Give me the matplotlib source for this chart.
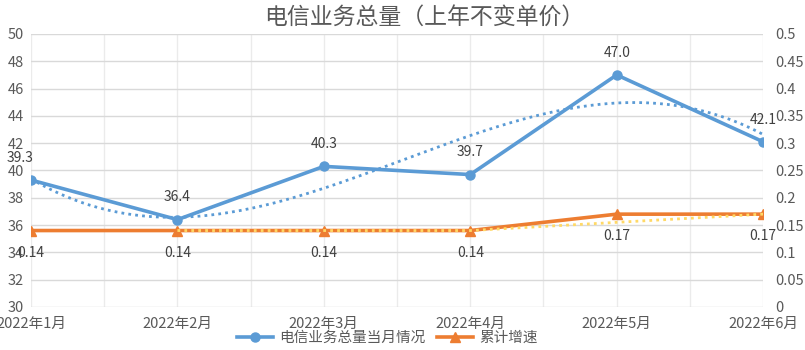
import numpy as np
import pandas as pd
import matplotlib
matplotlib.use("Agg")
import matplotlib.pyplot as plt
from matplotlib.ticker import FuncFormatter, MultipleLocator

plt.rcParams['font.family'] = ['Noto Sans CJK SC', 'DejaVu Sans']

months = ['2022年1月', '2022年2月', '2022年3月', '2022年4月', '2022年5月', '2022年6月']
monthly_total = [39.3, 36.4, 40.3, 39.7, 47.0, 42.1]
cum_growth = [0.14, 0.14, 0.14, 0.14, 0.17, 0.17]

blue = '#5B9BD5'
orange = '#ED7D31'
yellow = '#FFD966'
txt = '#595959'

fig = plt.figure(figsize=(8.05, 3.5), dpi=100)
ax = fig.add_axes([0.0385, 0.1229, 0.9095, 0.7801])
ax2 = ax.twinx()

x = np.arange(len(months))
xs = np.linspace(x[0], x[-1], 200)

# trendlines: cubic fit for the monthly total, 2-period moving average for growth
p1 = np.polyfit(x, monthly_total, 3)
ma2 = pd.Series(cum_growth).rolling(2).mean()

ax.plot(xs, np.polyval(p1, xs), color=blue, lw=2, ls=(0, (1, 1.5)), zorder=3)
l1, = ax.plot(x, monthly_total, color=blue, lw=2.6, marker='o', ms=6.5, zorder=4,
              label='电信业务总量当月情况')
l2, = ax2.plot(x, cum_growth, color=orange, lw=2.6, marker='^', ms=7, zorder=4,
               label='累计增速')
ax2.plot(x[1:], ma2[1:], color=yellow, lw=2, ls=(0, (1, 1.5)), zorder=5)

ax.set_ylim(30, 50)
ax.yaxis.set_major_locator(MultipleLocator(2))
ax2.set_ylim(0, 0.5)
ax2.yaxis.set_major_locator(MultipleLocator(0.05))
ax2.yaxis.set_major_formatter(FuncFormatter(lambda v, p: f'{v:.2f}'.rstrip('0').rstrip('.') if v else '0'))

ax.set_xlim(x[0], x[-1])
ax.set_xticks(x)
ax.set_xticklabels(months)
ax.set_xticks(np.arange(0.5, 5, 1), minor=True)

for a in (ax, ax2):
    for s in a.spines.values():
        s.set_visible(False)
    a.tick_params(length=0, labelsize=10.5, colors=txt)
ax.tick_params(axis='x', which='both', length=0, pad=7)
ax.tick_params(axis='y', pad=5)
ax2.tick_params(axis='y', pad=9)

ax.grid(axis='y', color='#d9d9d9', lw=1)
ax.grid(axis='x', which='both', color='#ebebeb', lw=1)
ax.set_axisbelow(True)

for i, v in enumerate(monthly_total):
    dx = -8 if i == 0 else 0
    ax.annotate(f'{v:.1f}', (x[i], v), xytext=(dx, 16), textcoords='offset points',
                ha='center', va='center', fontsize=10, color='#404040', zorder=6)
for i, v in enumerate(cum_growth):
    ax2.annotate(f'{v:.2f}', (x[i], v), xytext=(0, -16), textcoords='offset points',
                 ha='center', va='center', fontsize=10, color='#404040', zorder=6)

fig.text(0.527, 0.95, '电信业务总量（上年不变单价）', ha='center', va='center',
         fontsize=16.5, color=txt)
fig.legend(handles=[l1, l2], loc='center', bbox_to_anchor=(0.481, 0.034), ncol=2,
           frameon=False, fontsize=10.5, labelcolor=txt, handlelength=2.5,
           columnspacing=0.8, handletextpad=0.4)

fig.savefig('out.png', dpi=100)
